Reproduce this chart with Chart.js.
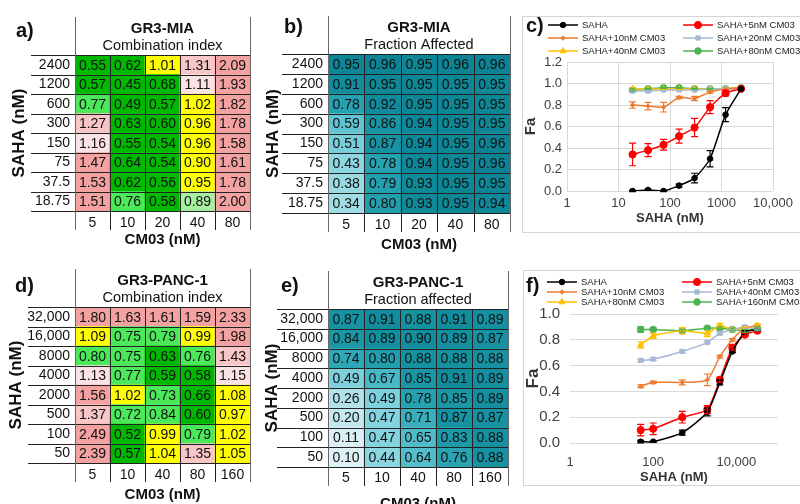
<!DOCTYPE html>
<html>
<head>
<meta charset="utf-8">
<script src="https://cdn.jsdelivr.net/npm/chart.js@4.4.1/dist/chart.umd.min.js"></script>
<style>
  body { margin: 0; width: 800px; height: 504px; background: #fff; position: relative; overflow: hidden; }
  .p { position: absolute; }
  .lab { position: absolute; font: bold 20px "Liberation Sans", Arial, sans-serif; color: #111; line-height: 24px; }
  .box { position: absolute; border: 1px solid #d4d4d4; box-sizing: border-box; }
</style>
</head>
<body>
<div class="box" style="left:522px;top:16px;width:290px;height:217px"></div>
<div class="box" style="left:523px;top:270px;width:290px;height:216px"></div>

<div class="p" style="left:0;top:0;width:258px;height:250px"><canvas id="chartA"></canvas></div>
<div class="p" style="left:260px;top:0;width:256px;height:255px"><canvas id="chartB"></canvas></div>
<div class="p" style="left:522px;top:16px;width:280px;height:216px"><canvas id="chartC"></canvas></div>
<div class="p" style="left:0;top:252px;width:258px;height:252px"><canvas id="chartD"></canvas></div>
<div class="p" style="left:260px;top:252px;width:256px;height:262px"><canvas id="chartE"></canvas></div>
<div class="p" style="left:523px;top:270px;width:280px;height:215px"><canvas id="chartF"></canvas></div>

<div class="lab" style="left:16px;top:18px">a)</div>
<div class="lab" style="left:284px;top:14px">b)</div>
<div class="lab" style="left:526px;top:13px">c)</div>
<div class="lab" style="left:15px;top:273px">d)</div>
<div class="lab" style="left:281px;top:273px">e)</div>
<div class="lab" style="left:526px;top:273px">f)</div>

<script>
// ---- GR3-MIA tables (rows listed top to bottom) ----
const miaRows = ['2400', '1200', '600', '300', '150', '75', '37.5', '18.75'];
const miaCols = ['5', '10', '20', '40', '80'];
const miaCI = [
  [0.55, 0.62, 1.01, 1.31, 2.09],
  [0.57, 0.45, 0.68, 1.11, 1.93],
  [0.77, 0.49, 0.57, 1.02, 1.82],
  [1.27, 0.63, 0.60, 0.96, 1.78],
  [1.16, 0.55, 0.54, 0.96, 1.58],
  [1.47, 0.64, 0.54, 0.90, 1.61],
  [1.53, 0.62, 0.56, 0.95, 1.78],
  [1.51, 0.76, 0.58, 0.89, 2.00]
];
const miaFA = [
  [0.95, 0.96, 0.95, 0.96, 0.96],
  [0.91, 0.95, 0.95, 0.95, 0.95],
  [0.78, 0.92, 0.95, 0.95, 0.95],
  [0.59, 0.86, 0.94, 0.95, 0.95],
  [0.51, 0.87, 0.94, 0.95, 0.96],
  [0.43, 0.78, 0.94, 0.95, 0.96],
  [0.38, 0.79, 0.93, 0.95, 0.95],
  [0.34, 0.80, 0.93, 0.95, 0.94]
];

// ---- GR3-PANC-1 tables ----
const pancRows = ['32,000', '16,000', '8000', '4000', '2000', '500', '100', '50'];
const pancCols = ['5', '10', '40', '80', '160'];
const pancCI = [
  [1.80, 1.63, 1.61, 1.59, 2.33],
  [1.09, 0.75, 0.79, 0.99, 1.98],
  [0.80, 0.75, 0.63, 0.76, 1.43],
  [1.13, 0.77, 0.59, 0.58, 1.15],
  [1.56, 1.02, 0.73, 0.66, 1.08],
  [1.37, 0.72, 0.84, 0.60, 0.97],
  [2.49, 0.52, 0.99, 0.79, 1.02],
  [2.39, 0.57, 1.04, 1.35, 1.05]
];
const pancFA = [
  [0.87, 0.91, 0.88, 0.91, 0.89],
  [0.84, 0.89, 0.90, 0.89, 0.87],
  [0.74, 0.80, 0.88, 0.88, 0.88],
  [0.49, 0.67, 0.85, 0.91, 0.89],
  [0.26, 0.49, 0.78, 0.85, 0.89],
  [0.20, 0.47, 0.71, 0.87, 0.87],
  [0.11, 0.47, 0.65, 0.83, 0.88],
  [0.10, 0.44, 0.64, 0.76, 0.88]
];

// ---- dose response curves ----
const miaSaha = [18.75, 37.5, 75, 150, 300, 600, 1200, 2400];
const miaNames = ['SAHA', 'SAHA+5nM CM03', 'SAHA+10nM CM03', 'SAHA+20nM CM03', 'SAHA+40nM CM03', 'SAHA+80nM CM03'];
const miaFa = [
  [0.00, 0.01, 0.00, 0.05, 0.12, 0.30, 0.71, 0.95],
  [0.34, 0.38, 0.43, 0.51, 0.59, 0.78, 0.91, 0.95],
  [0.80, 0.79, 0.78, 0.87, 0.86, 0.92, 0.95, 0.96],
  [0.93, 0.93, 0.94, 0.94, 0.94, 0.95, 0.95, 0.95],
  [0.95, 0.95, 0.95, 0.95, 0.95, 0.95, 0.95, 0.96],
  [0.94, 0.95, 0.96, 0.96, 0.95, 0.95, 0.95, 0.96]
];
const miaErr = [
  [0.005, 0.005, 0.005, 0.015, 0.045, 0.075, 0.065, 0],
  [0.105, 0.06, 0.05, 0.065, 0.085, 0.06, 0.025, 0],
  [0.03, 0.035, 0.045, 0.01, 0.02, 0.01, 0, 0],
  [0.01, 0.01, 0.005, 0.005, 0.005, 0.005, 0, 0],
  [0.005, 0.005, 0.005, 0.005, 0.005, 0.005, 0, 0],
  [0.01, 0.005, 0.005, 0.005, 0.005, 0.005, 0, 0]
];
const miaTicks = [1, 10, 100, 1000, 10000];
const miaTickLabels = ['1', '10', '100', '1000', '10,000'];

const pancSaha = [50, 100, 500, 2000, 4000, 8000, 16000, 32000];
const pancNames = ['SAHA', 'SAHA+5nM CM03', 'SAHA+10nM CM03', 'SAHA+40nM CM03', 'SAHA+80nM CM03', 'SAHA+160nM CM03'];
const pancFa = [
  [0.01, 0.01, 0.08, 0.24, 0.47, 0.71, 0.86, 0.88],
  [0.10, 0.11, 0.20, 0.26, 0.49, 0.74, 0.84, 0.87],
  [0.44, 0.47, 0.47, 0.49, 0.67, 0.80, 0.89, 0.91],
  [0.64, 0.65, 0.71, 0.78, 0.85, 0.88, 0.90, 0.88],
  [0.76, 0.83, 0.87, 0.85, 0.91, 0.88, 0.89, 0.91],
  [0.88, 0.88, 0.87, 0.89, 0.89, 0.88, 0.87, 0.89]
];
const pancErr = [
  [0.01, 0.005, 0.02, 0.03, 0.02, 0.01, 0.01, 0.01],
  [0.045, 0.045, 0.045, 0.03, 0.02, 0.02, 0.01, 0.01],
  [0.01, 0.01, 0.02, 0.045, 0.01, 0.01, 0.01, 0.01],
  [0.01, 0.01, 0.01, 0.01, 0.01, 0.01, 0.01, 0.01],
  [0.025, 0.02, 0.025, 0.025, 0.015, 0.01, 0.01, 0.01],
  [0.02, 0.01, 0.01, 0.01, 0.01, 0.01, 0.01, 0.01]
];
const pancTicks = [1, 100, 10000];
const pancTickLabels = ['1', '100', '10,000'];

// ---- styles ----
const FONT = '"Liberation Sans", Arial, sans-serif';
Chart.defaults.font.family = FONT;
Chart.defaults.color = '#111';

const lineColors = ['#000000', '#ff0000', '#ed7d31', '#a6b9d6', '#ffc000', '#4bb34f'];
const pointStyles = ['circle', 'circle', 'rectRot', 'rect', 'triangle', 'circle'];
const pointRadii = [2.8, 3.6, 2.2, 3, 3.5, 3.3];

function ciColor(v) {
  if (v < 0.7) return '#00b800';
  if (v < 0.85) return '#4be85a';
  if (v < 0.9) return '#a6eea0';
  if (v < 1.1) return '#ffff00';
  if (v < 1.2) return '#fce3e3';
  if (v < 1.45) return '#f8c6c6';
  return '#f3a1a1';
}

const tealStops = [
  [0.10, [222, 241, 245]], [0.26, [178, 226, 233]], [0.45, [138, 213, 224]],
  [0.65, [80, 188, 202]], [0.75, [42, 166, 181]], [0.86, [24, 148, 163]], [0.96, [12, 132, 149]]
];
function faColor(v) {
  for (let i = 1; i < tealStops.length; i++) {
    const [v1, c1] = tealStops[i];
    const [v0, c0] = tealStops[i - 1];
    if (v <= v1 || i === tealStops.length - 1) {
      const t = Math.max(0, Math.min(1, (v - v0) / (v1 - v0)));
      const c = c0.map((a, k) => Math.round(a + (c1[k] - a) * t));
      return `rgb(${c[0]},${c[1]},${c[2]})`;
    }
  }
}

// cell values, table rules and headings for the heatmaps
const tablePlugin = {
  id: 'table',
  afterDatasetsDraw(chart, args, o) {
    const { ctx, chartArea: ca, scales: { x, y } } = chart;
    const nR = y.max, nC = chart.data.labels.length;
    ctx.save();
    ctx.font = '14px ' + FONT;
    ctx.fillStyle = '#111';
    ctx.textAlign = 'center';
    ctx.textBaseline = 'middle';
    chart.data.datasets.forEach((ds, di) => {
      chart.getDatasetMeta(di).data.forEach((bar, j) => {
        ctx.fillText(ds.values[j].toFixed(2), bar.x, (bar.y + bar.base) / 2 + 1);
      });
    });
    ctx.strokeStyle = '#222';
    ctx.lineWidth = 1;
    ctx.beginPath();
    for (let i = 0; i <= nR; i++) {
      const py = Math.round(y.getPixelForValue(i)) + 0.5;
      ctx.moveTo(ca.left - o.labelSpan, py);
      ctx.lineTo(ca.right, py);
    }
    for (let j = 1; j < nC; j++) {
      const px = Math.round(x.getPixelForValue(j - 0.5)) + 0.5;
      ctx.moveTo(px, ca.top);
      ctx.lineTo(px, ca.bottom + 19);
    }
    ctx.stroke();
    ctx.strokeStyle = '#666';
    ctx.beginPath();
    [ca.left, ca.right].forEach(px => {
      px = Math.round(px) + 0.5;
      ctx.moveTo(px, ca.top - 38);
      ctx.lineTo(px, ca.bottom + 19);
    });
    ctx.stroke();
    const cx = (ca.left + ca.right) / 2;
    ctx.font = 'bold 15px ' + FONT;
    ctx.fillText(o.title, cx, ca.top - 26);
    ctx.font = '14.5px ' + FONT;
    ctx.fillText(o.subtitle, cx, ca.top - 9);
    ctx.restore();
  }
};

function heatmap(id, rows, cols, vals, colorFn, opt) {
  const bottomUp = rows.slice().reverse();
  const datasets = [];
  for (let r = rows.length - 1; r >= 0; r--) {
    datasets.push({
      data: cols.map(() => 1),
      values: vals[r],
      backgroundColor: vals[r].map(colorFn),
      borderWidth: 0,
      barPercentage: 1,
      categoryPercentage: 1
    });
  }
  return new Chart(document.getElementById(id), {
    type: 'bar',
    data: { labels: cols, datasets },
    options: {
      responsive: true,
      maintainAspectRatio: false,
      animation: false,
      layout: { padding: { top: opt.top, right: opt.right, left: 0, bottom: 0 } },
      plugins: { legend: { display: false }, tooltip: { enabled: false }, table: opt },
      scales: {
        x: {
          stacked: true,
          grid: { display: false, drawTicks: false },
          border: { display: false },
          ticks: { font: { size: 14 }, color: '#111', padding: opt.xPad },
          title: { display: true, text: 'CM03 (nM)', font: { size: 15, weight: 'bold' }, color: '#111', padding: { top: 0, bottom: opt.xtPad } },
          afterFit: s => { s.height = opt.xh; }
        },
        y: {
          stacked: true,
          min: 0,
          max: rows.length,
          grid: { display: false, drawTicks: false },
          border: { display: false },
          afterBuildTicks: s => { s.ticks = bottomUp.map((_, i) => ({ value: i + 0.5 })); },
          ticks: { autoSkip: false, font: { size: 14 }, color: '#111', padding: 5, callback: v => bottomUp[Math.floor(v)] },
          title: { display: true, text: 'SAHA (nM)', font: { size: 17, weight: 'bold' }, color: '#111', padding: { top: opt.ytPad, bottom: 0 } },
          afterFit: s => { s.width = opt.left; }
        }
      }
    },
    plugins: [tablePlugin]
  });
}

// error bars read from each dataset's err list
const errorBars = {
  id: 'errorBars',
  afterDatasetsDraw(chart) {
    const { ctx, scales: { y } } = chart;
    ctx.save();
    chart.data.datasets.forEach((ds, i) => {
      const meta = chart.getDatasetMeta(i);
      ctx.strokeStyle = ds.borderColor;
      ctx.lineWidth = 1.2;
      meta.data.forEach((pt, j) => {
        const e = ds.err[j];
        if (!e) return;
        const v = ds.data[j].y;
        const y1 = y.getPixelForValue(v + e), y2 = y.getPixelForValue(v - e);
        ctx.beginPath();
        ctx.moveTo(pt.x, y1); ctx.lineTo(pt.x, y2);
        ctx.moveTo(pt.x - 3.5, y1); ctx.lineTo(pt.x + 3.5, y1);
        ctx.moveTo(pt.x - 3.5, y2); ctx.lineTo(pt.x + 3.5, y2);
        ctx.stroke();
      });
    });
    ctx.restore();
  }
};

// two-column legend like the spreadsheet one
const gridLegend = {
  id: 'gridLegend',
  afterDraw(chart, args, o) {
    const ctx = chart.ctx;
    ctx.save();
    ctx.font = o.font + ' ' + FONT;
    ctx.textBaseline = 'middle';
    chart.data.datasets.forEach((ds, i) => {
      const x0 = o.x[i % 2], yy = o.y[Math.floor(i / 2)];
      ctx.strokeStyle = ds.borderColor;
      ctx.lineWidth = ds.borderWidth;
      ctx.beginPath();
      ctx.moveTo(x0, yy);
      ctx.lineTo(x0 + o.len, yy);
      ctx.stroke();
      ctx.fillStyle = ds.backgroundColor;
      ctx.lineWidth = 1;
      Chart.helpers.drawPoint(ctx, { pointStyle: ds.pointStyle, radius: ds.pointRadius, rotation: 0, borderWidth: 1 }, x0 + o.len / 2, yy);
      ctx.fillStyle = '#222';
      ctx.fillText(ds.label, x0 + o.len + 4, yy);
    });
    ctx.restore();
  }
};

function faChart(id, xs, fa, err, names, opt) {
  const datasets = fa.map((ys, i) => ({
    label: names[i],
    data: xs.map((x, j) => ({ x, y: ys[j] })),
    err: err[i],
    borderColor: lineColors[i],
    backgroundColor: lineColors[i],
    borderWidth: 1.5,
    pointStyle: pointStyles[i],
    pointRadius: pointRadii[i],
    pointBorderWidth: 1,
    tension: 0.2
  }));
  return new Chart(document.getElementById(id), {
    type: 'line',
    data: { datasets },
    options: {
      responsive: true,
      maintainAspectRatio: false,
      animation: false,
      layout: { padding: { top: opt.top, right: opt.right, left: 0, bottom: 0 } },
      plugins: { legend: { display: false }, tooltip: { enabled: false }, gridLegend: opt.legend },
      scales: {
        x: {
          type: 'logarithmic',
          min: 1,
          max: opt.xmax,
          afterBuildTicks: s => { s.ticks = opt.ticks.map(v => ({ value: v })); },
          ticks: { autoSkip: false, maxRotation: 0, font: { size: 13 }, color: '#404040', padding: opt.xPad,
                   callback: (v, i) => opt.tickLabels[i] },
          grid: { display: opt.xgrid, color: '#d9d9d9', drawTicks: false },
          border: { display: false },
          title: { display: true, text: 'SAHA (nM)', font: { size: 13, weight: 'bold' }, color: '#333', padding: { top: 0, bottom: opt.xtPad } },
          afterFit: s => { s.height = opt.xh; }
        },
        y: {
          min: 0,
          max: opt.ymax,
          ticks: { stepSize: 0.2, callback: v => v.toFixed(1), font: { size: opt.yFont }, color: '#404040', padding: opt.yPad },
          grid: { color: '#d9d9d9', drawTicks: false },
          border: { display: false },
          title: { display: true, text: 'Fa', font: { size: opt.faFont, weight: 'bold' }, color: '#333', padding: { top: 0, bottom: 0 } },
          afterFit: s => { s.width = opt.yw; }
        }
      }
    },
    plugins: [errorBars, gridLegend]
  });
}

heatmap('chartA', miaRows, miaCols, miaCI, ciColor,
  { title: 'GR3-MIA', subtitle: 'Combination index', left: 75, top: 55, right: 8, xh: 39, xPad: 4, xtPad: 1, ytPad: 9, labelSpan: 44 });
heatmap('chartB', miaRows, miaCols, miaFA, faColor,
  { title: 'GR3-MIA', subtitle: 'Fraction Affected', left: 68, top: 54, right: 6, xh: 42, xPad: 4, xtPad: 1, ytPad: 3, labelSpan: 46 });
heatmap('chartD', pancRows, pancCols, pancCI, ciColor,
  { title: 'GR3-PANC-1', subtitle: 'Combination index', left: 75, top: 55, right: 8, xh: 41, xPad: 4, xtPad: 0, ytPad: 6, labelSpan: 47 });
heatmap('chartE', pancRows, pancCols, pancFA, faColor,
  { title: 'GR3-PANC-1', subtitle: 'Fraction affected', left: 68, top: 57, right: 8, xh: 47, xPad: 3, xtPad: 1, ytPad: 2, labelSpan: 51 });

faChart('chartC', miaSaha, miaFa, miaErr, miaNames, {
  top: 46, right: 29, yw: 45, xh: 41, xmax: 10000, ymax: 1.2,
  ticks: miaTicks, tickLabels: miaTickLabels, xgrid: true, xPad: 5, xtPad: 6,
  yFont: 13, yPad: 5, faFont: 15,
  legend: { font: '9.5px', x: [26, 161], y: [9, 22, 35], len: 30 }
});
faChart('chartF', pancSaha, pancFa, pancErr, pancNames, {
  top: 44, right: 25, yw: 47, xh: 42, xmax: 100000, ymax: 1.0,
  ticks: pancTicks, tickLabels: pancTickLabels, xgrid: false, xPad: 12, xtPad: 0,
  yFont: 15, yPad: 10, faFont: 17,
  legend: { font: '9.5px', x: [24, 159], y: [12, 22, 32], len: 30 }
});
</script>
</body>
</html>
